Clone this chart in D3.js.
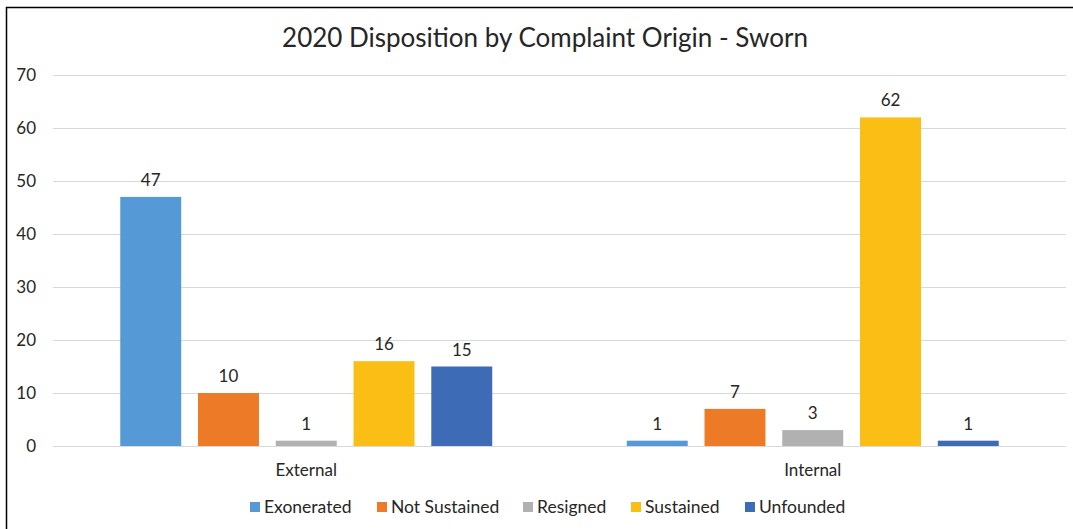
<!DOCTYPE html>
<html lang="en">
<head>
<meta charset="UTF-8">
<title>2020 Disposition by Complaint Origin - Sworn</title>
<script src="https://cdn.jsdelivr.net/npm/d3@7"></script>
<style>
  body { margin: 0; background: #fff; }
  text { font-family: "Lato", "Open Sans", sans-serif; fill: #262626; }
</style>
</head>
<body>
<script>
// chart data
var categories = ["External", "Internal"];
var seriesNames = ["Exonerated", "Not Sustained", "Resigned", "Sustained", "Unfounded"];
var exonerated = [47, 1];
var notSustained = [10, 7];
var resigned = [1, 3];
var sustained = [16, 62];
var unfounded = [15, 1];
var yTicks = [0, 10, 20, 30, 40, 50, 60, 70];
var colors = ["#559ad6", "#ec7a27", "#b1b1b1", "#fbbe14", "#3e6bb5"];

var allSeries = [exonerated, notSustained, resigned, sustained, unfounded];

var w = 1073, h = 529;
var plotLeft = 53, plotRight = 1066, plotTop = 75, plotBottom = 446;
var groupWidth = 372;

var svg = d3.select("body").append("svg")
  .attr("width", w)
  .attr("height", h);

// outer frame
svg.append("rect")
  .attr("x", 6.5).attr("y", 7.5)
  .attr("width", w + 10).attr("height", h + 10)
  .attr("fill", "none")
  .attr("stroke", "#000")
  .attr("stroke-width", 1.5);

var x0 = d3.scaleBand().domain(categories).range([plotLeft, plotRight]).paddingInner(0).paddingOuter(0);
var x1 = d3.scaleBand().domain(seriesNames).range([0, groupWidth]).paddingInner(0.216);
var y = d3.scaleLinear().domain([0, 70]).range([plotBottom, plotTop]);

// gridlines
svg.selectAll("line.grid")
  .data(yTicks)
  .enter().append("line")
  .attr("class", "grid")
  .attr("x1", plotLeft).attr("x2", plotRight)
  .attr("y1", function(d) { return Math.round(y(d)) + 0.5; })
  .attr("y2", function(d) { return Math.round(y(d)) + 0.5; })
  .attr("stroke", "#d9d9d9")
  .attr("stroke-width", 1);

// y axis labels
var yAxis = d3.axisLeft(y).tickValues(yTicks).tickSize(0).tickPadding(17);
var gy = svg.append("g").attr("transform", "translate(" + plotLeft + ",0)").call(yAxis);
gy.select(".domain").remove();
gy.selectAll("text").style("font-size", "17px").attr("fill", "#262626");

// x axis labels
var xAxis = d3.axisBottom(x0).tickSize(0).tickPadding(18);
var gx = svg.append("g").attr("transform", "translate(0," + plotBottom + ")").call(xAxis);
gx.select(".domain").remove();
gx.selectAll("text").style("font-size", "17px").attr("fill", "#262626");
gy.attr("font-family", null);
gx.attr("font-family", null);

// bars
var groups = svg.selectAll("g.cat")
  .data(categories)
  .enter().append("g")
  .attr("class", "cat")
  .attr("transform", function(d) {
    return "translate(" + (x0(d) + (x0.bandwidth() - groupWidth) / 2) + ",0)";
  });

groups.each(function(cat, ci) {
  var g = d3.select(this);
  var rows = seriesNames.map(function(s, si) {
    return { name: s, value: allSeries[si][ci], color: colors[si] };
  });
  g.selectAll("rect")
    .data(rows)
    .enter().append("rect")
    .attr("x", function(d) { return x1(d.name); })
    .attr("y", function(d) { return y(d.value); })
    .attr("width", x1.bandwidth())
    .attr("height", function(d) { return y(0) - y(d.value); })
    .attr("fill", function(d) { return d.color; });
  g.selectAll("text.lbl")
    .data(rows)
    .enter().append("text")
    .attr("class", "lbl")
    .attr("x", function(d) { return x1(d.name) + x1.bandwidth() / 2; })
    .attr("y", function(d) { return y(d.value) - 11; })
    .attr("text-anchor", "middle")
    .style("font-size", "17px")
    .text(function(d) { return d.value; });
});

// title
svg.append("text")
  .attr("x", 545).attr("y", 47)
  .attr("text-anchor", "middle")
  .style("font-size", "26px")
  .text("2020 Disposition by Complaint Origin - Sworn");

// legend
var legendX = [250, 377, 523, 631, 745];
var legend = svg.selectAll("g.legend")
  .data(seriesNames)
  .enter().append("g")
  .attr("class", "legend")
  .attr("transform", function(d, i) { return "translate(" + legendX[i] + ",502)"; });
legend.append("rect")
  .attr("width", 10).attr("height", 10)
  .attr("fill", function(d, i) { return colors[i]; });
legend.append("text")
  .attr("x", 14).attr("y", 11)
  .style("font-size", "17.5px")
  .text(function(d) { return d; });
</script>
</body>
</html>
